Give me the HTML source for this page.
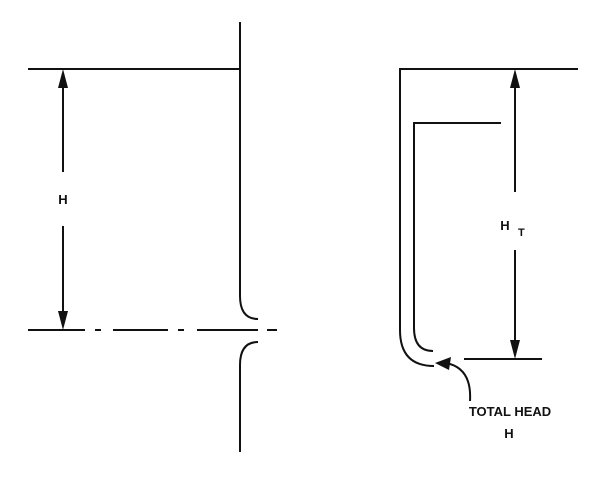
<!DOCTYPE html><html><head><style>body{margin:0;background:#fff}</style></head><body>
<svg width="600" height="485" viewBox="0 0 600 485" xmlns="http://www.w3.org/2000/svg" fill="none" stroke="#111" stroke-width="2">
<line x1="28" y1="69" x2="240" y2="69"/>
<path d="M240,22 V296 Q240,319 258,319"/>
<path d="M258,342 Q240,342 240,365 V452"/>
<line x1="28" y1="330" x2="85" y2="330"/><line x1="95" y1="330" x2="101" y2="330"/>
<line x1="113" y1="330" x2="168" y2="330"/><line x1="178" y1="330" x2="184" y2="330"/>
<line x1="197" y1="330" x2="258" y2="330"/><line x1="267" y1="330" x2="277" y2="330"/>
<line x1="63" y1="80" x2="63" y2="172"/>
<line x1="63" y1="226" x2="63" y2="318"/>
<polygon points="63,69 58,88 68,88" fill="#111" stroke="none"/>
<polygon points="63,330 58,311 68,311" fill="#111" stroke="none"/>
<text x="63" y="204" font-family="Liberation Sans, sans-serif" font-size="13" font-weight="bold" fill="#111" stroke="none" text-anchor="middle">H</text>
<path d="M578,69 H400 V330 Q400,366 434,366"/>
<path d="M501,123 H414 V328 Q414,351 433,351"/>
<line x1="464" y1="359" x2="542" y2="359"/>
<line x1="515" y1="80" x2="515" y2="192"/>
<line x1="515" y1="250" x2="515" y2="348"/>
<polygon points="515,69 510,88 520,88" fill="#111" stroke="none"/>
<polygon points="515,359 510,340 520,340" fill="#111" stroke="none"/>
<text x="505" y="230" font-family="Liberation Sans, sans-serif" font-size="13" font-weight="bold" fill="#111" stroke="none" text-anchor="middle">H</text>
<text x="518" y="236" font-family="Liberation Sans, sans-serif" font-size="11" font-weight="bold" fill="#111" stroke="none">T</text>
<path d="M470,401 Q472,368 446,363"/>
<polygon points="435,363 451,357 449,370" fill="#111" stroke="none"/>
<text x="510" y="416" font-family="Liberation Sans, sans-serif" font-size="13" font-weight="bold" fill="#111" stroke="none" text-anchor="middle">TOTAL HEAD</text>
<text x="509" y="438" font-family="Liberation Sans, sans-serif" font-size="13" font-weight="bold" fill="#111" stroke="none" text-anchor="middle">H</text>
</svg></body></html>
